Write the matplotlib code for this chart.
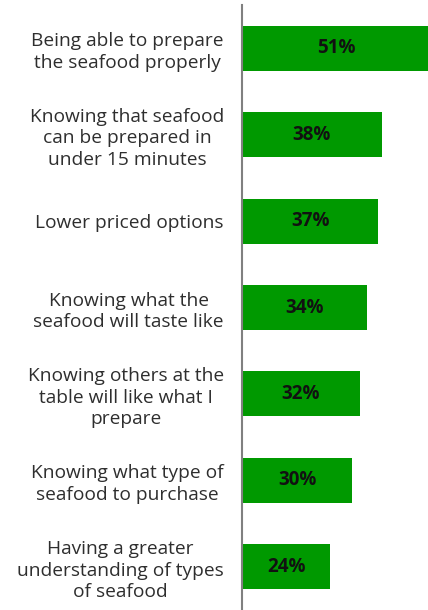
import matplotlib.pyplot as plt

# Survey answers, top to bottom
labels = [
    "Being able to prepare\nthe seafood properly",
    "Knowing that seafood\ncan be prepared in\nunder 15 minutes",
    "Lower priced options",
    "Knowing what the\nseafood will taste like",
    "Knowing others at the\ntable will like what I\nprepare",
    "Knowing what type of\nseafood to purchase",
    "Having a greater\nunderstanding of types\nof seafood",
]
values = [51, 38, 37, 34, 32, 30, 24]

plt.rcParams['font.family'] = ['Open Sans', 'DejaVu Sans']

fig = plt.figure(figsize=(4.28, 6.10), dpi=100)
ax = fig.add_axes([242 / 428, 0, 186 / 428, 605 / 610])

pos = list(range(len(values)))
ax.barh(pos, values, height=0.52, color='#009900', edgecolor='none')

for y, v in zip(pos, values):
    ax.text(v / 2, y, f"{v}%", ha='center', va='center',
            fontsize=13.5, fontweight='bold', color='#111111')

ax.set_ylim(len(values) - 0.5, -0.5)
ax.set_xlim(0, 50.5)
ax.set_yticks(pos)
ax.set_yticklabels(labels, fontsize=13.8, color='#2e2e2e', linespacing=1.26)
for t in ax.get_yticklabels():
    t.set_multialignment('center')
ax.tick_params(axis='y', length=0, pad=13)
ax.set_xticks([])

for s in ['top', 'right', 'bottom']:
    ax.spines[s].set_visible(False)
ax.spines['left'].set_color('#808080')
ax.spines['left'].set_linewidth(1.5)

fig.savefig('out.png', dpi=100)
